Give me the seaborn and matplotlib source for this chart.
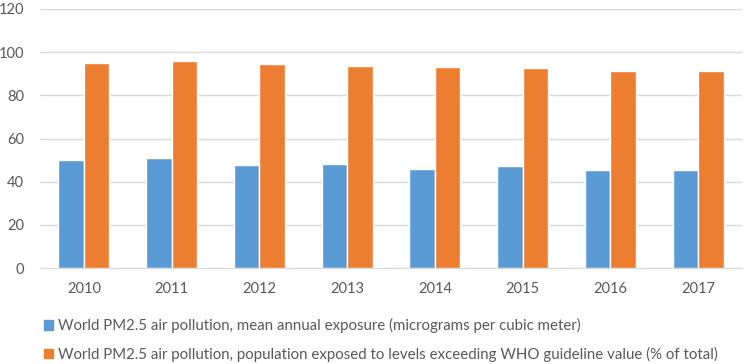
"""
World PM2.5 air pollution, 2010-2017: mean exposure vs. share of population above WHO guideline.
"""

import pandas as pd
import matplotlib
matplotlib.use("Agg")
import matplotlib.pyplot as plt
import seaborn as sns
from matplotlib.patches import Patch

years = ["2010", "2011", "2012", "2013", "2014", "2015", "2016", "2017"]
mean_exposure = [50.2, 50.8, 47.6, 48.1, 46.1, 47.3, 45.3, 45.6]
pct_exceeding = [95.2, 96.0, 94.7, 93.7, 92.9, 92.7, 91.3, 91.3]

label_mean = "World PM2.5 air pollution, mean annual exposure (micrograms per cubic meter)"
label_pct = ("World PM2.5 air pollution, population exposed to levels exceeding "
             "WHO guideline value (% of total)")
colors = {label_mean: "#5B9BD5", label_pct: "#ED7D31"}

df = pd.DataFrame({
    "year": years * 2,
    "value": mean_exposure + pct_exceeding,
    "series": [label_mean] * len(years) + [label_pct] * len(years),
})

sns.set_style("white")
plt.rcParams["font.family"] = ["Lato", "DejaVu Sans"]
text_color = "#595959"
grid_color = "#d9d9d9"

fig = plt.figure(figsize=(7.52, 3.64), dpi=100)
ax = fig.add_axes([40 / 752, 1 - 268 / 364, 702 / 752, 259 / 364])

sns.barplot(data=df, x="year", y="value", hue="series", palette=colors,
            width=0.58, saturation=1, ax=ax, legend=False)

ax.set_ylim(0, 120)
ax.set_yticks(range(0, 121, 20))
ax.set_xlim(-0.5, len(years) - 0.5)
ax.set_xlabel("")
ax.set_ylabel("")
ax.yaxis.grid(True, color=grid_color, linewidth=1)
ax.set_axisbelow(True)
for side in ["top", "right", "left"]:
    ax.spines[side].set_visible(False)
ax.spines["bottom"].set_color(grid_color)
ax.tick_params(axis="both", length=0, labelsize=10.5, colors=text_color)
ax.tick_params(axis="x", pad=10)
ax.tick_params(axis="y", pad=11.5)

handles = [Patch(color=colors[label_mean], label=label_mean),
           Patch(color=colors[label_pct], label=label_pct)]
fig.legend(handles=handles, loc="upper left", bbox_to_anchor=(38 / 752, 1 - 312 / 364),
           frameon=False, fontsize=10.8, labelcolor=text_color, labelspacing=0.9,
           handlelength=0.6, handleheight=0.6, handletextpad=0.3, borderaxespad=0)

fig.savefig("out.png", dpi=100)
plt.close(fig)
